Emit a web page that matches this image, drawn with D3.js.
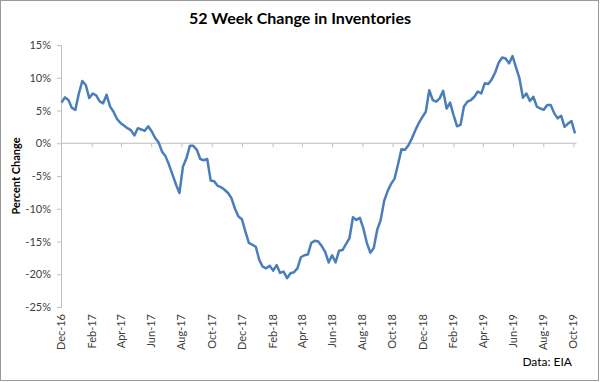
<!DOCTYPE html>
<html>
<head>
<meta charset="utf-8">
<script src="https://cdn.jsdelivr.net/npm/d3@7"></script>
<style>
  html, body { margin: 0; padding: 0; background: #fff; }
  svg { display: block; }
  text { font-family: Lato, "Open Sans", sans-serif; }
</style>
</head>
<body>
<svg id="chart" width="600" height="382"></svg>
<script>
// ---- data ----
const startDate = "2016-12-02";   // first weekly observation
const stepDays = 7;               // weekly series
const values = [
  6.2, 7.0, 6.6, 5.4, 5.1, 7.6, 9.5, 8.9, 6.9, 7.6,
  7.3, 6.4, 6.1, 7.4, 5.6, 4.8, 3.7, 3.1, 2.7, 2.3,
  2.0, 1.2, 2.3, 2.1, 1.9, 2.6, 1.8, 0.8, 0.1, -1.3,
  -2.0, -3.3, -4.8, -6.3, -7.6, -3.6, -2.3, -0.4, -0.4, -1.0,
  -2.4, -2.6, -2.4, -5.7, -5.8, -6.5, -6.7, -7.1, -7.6, -8.4,
  -10.0, -11.2, -11.6, -13.5, -15.2, -15.5, -15.8, -17.8, -18.85, -19.1,
  -18.7, -19.45, -18.6, -19.8, -19.6, -20.6, -19.85, -19.7, -19.1, -17.4,
  -17.1, -17.0, -15.2, -14.9, -15.0, -15.7, -16.6, -18.2, -17.1, -18.2,
  -16.4, -16.3, -15.4, -14.5, -11.3, -11.7, -11.4, -13.0, -15.2, -16.7,
  -16.0, -13.2, -11.7, -8.8, -7.3, -6.2, -5.4, -3.2, -0.9, -1.0,
  -0.3, 0.75, 2.0, 3.1, 4.0, 4.8, 8.1, 6.6, 6.35, 6.85,
  8.0, 5.3, 6.2, 4.3, 2.6, 2.8, 5.6, 6.35, 6.6, 7.1,
  7.9, 7.6, 9.15, 9.05, 9.75, 10.8, 12.3, 13.1, 12.95, 12.2,
  13.3, 11.6, 9.9, 6.95, 7.6, 6.45, 7.1, 5.6, 5.3, 5.1,
  5.85, 5.85, 4.6, 3.8, 4.2, 2.5, 3.0, 3.4, 1.5
];
const yTicks = [15, 10, 5, 0, -5, -10, -15, -20, -25];
const xTickLabels = ["Dec-16","Feb-17","Apr-17","Jun-17","Aug-17","Oct-17","Dec-17","Feb-18","Apr-18",
  "Jun-18","Aug-18","Oct-18","Dec-18","Feb-19","Apr-19","Jun-19","Aug-19","Oct-19"];
const title = "52 Week Change in Inventories";
const yTitle = "Percent Change";
const source = "Data: EIA";

// ---- build ----
const parse = d3.timeParse("%Y-%m-%d");
const t0 = parse(startDate);
const data = values.map((v, i) => ({ date: d3.timeDay.offset(t0, i * stepDays), value: v }));
const tickDates = xTickLabels.map(s => d3.timeParse("%b-%y")(s));

const svg = d3.select("#chart");
const W = 600, H = 382;

// outer frame
svg.append("rect").attr("x", 0.5).attr("y", 0.5).attr("width", W - 2).attr("height", H - 2)
  .attr("fill", "#fff").attr("stroke", "#9a9a9a").attr("stroke-width", 1);

const x = d3.scaleTime()
  .domain([tickDates[0], tickDates[tickDates.length - 1]])
  .range([61, 573.5]);
const y = d3.scaleLinear().domain([-25, 15]).range([307, 45]);

const axisColor = "#bfbfbf";
const textColor = "#404040";

// y axis
const yAxis = svg.append("g").attr("transform", "translate(61,0)")
  .call(d3.axisLeft(y).tickValues(yTicks).tickSize(4).tickPadding(6).tickFormat(d => d + "%"));
yAxis.select(".domain").attr("stroke", axisColor);
yAxis.selectAll(".tick line").attr("stroke", axisColor);
yAxis.selectAll(".tick text").attr("fill", textColor).style("font-size", "11px");

// x axis at zero, labels at bottom
const xAxis = svg.append("g").attr("transform", `translate(0,${y(0)})`)
  .call(d3.axisBottom(x).tickValues(tickDates).tickSize(4).tickFormat(""));
xAxis.select(".domain").attr("stroke", axisColor).attr("d", `M${x.range()[0]},0H${x.range()[1] + 3}`);
xAxis.selectAll(".tick line").attr("stroke", axisColor);

svg.append("g").selectAll("text").data(tickDates).join("text")
  .attr("transform", d => `translate(${x(d)},314) rotate(-90)`)
  .attr("text-anchor", "end").attr("dy", "0.35em")
  .attr("fill", textColor).style("font-size", "11px")
  .text((d, i) => xTickLabels[i]);

// line
svg.append("path").datum(data)
  .attr("fill", "none").attr("stroke", "#4a7ebb").attr("stroke-width", 2.5)
  .attr("stroke-linejoin", "round")
  .attr("d", d3.line().x(d => x(d.date)).y(d => y(d.value)));

// titles
svg.append("text").attr("x", 300).attr("y", 24).attr("text-anchor", "middle")
  .style("font-size", "16px").style("font-weight", "bold").attr("fill", "#000").text(title);
svg.append("text").attr("transform", `translate(20,176) rotate(-90)`).attr("text-anchor", "middle")
  .style("font-size", "11px").style("font-weight", "bold").attr("fill", "#000").text(yTitle);
svg.append("text").attr("x", 572).attr("y", 366).attr("text-anchor", "end")
  .style("font-size", "12px").attr("fill", "#000").text(source);
</script>
</body>
</html>
